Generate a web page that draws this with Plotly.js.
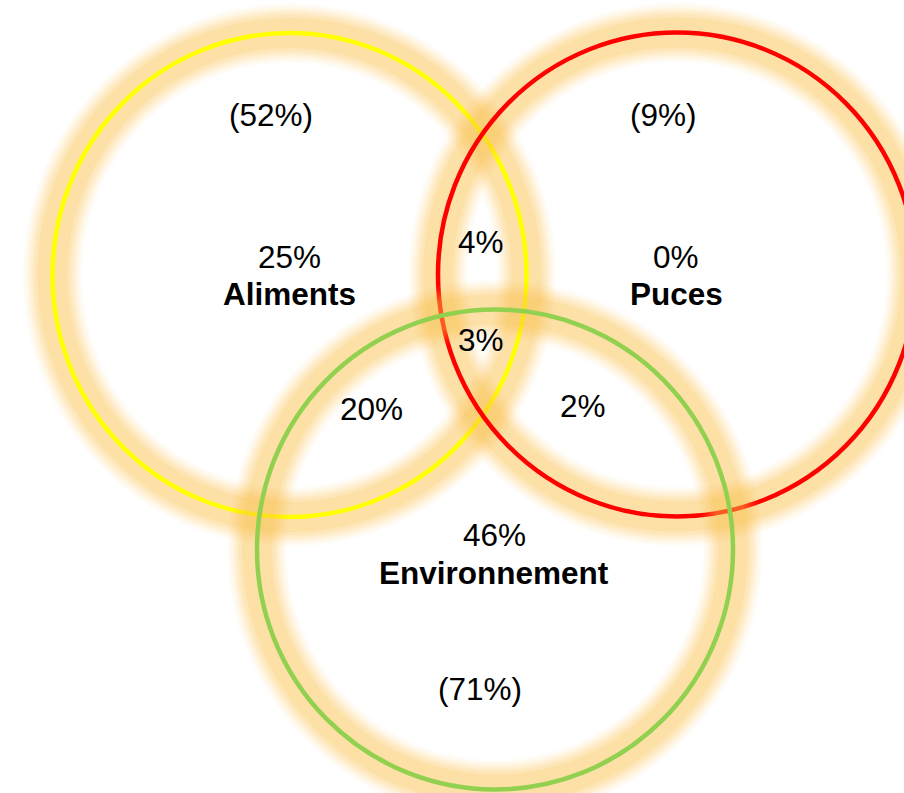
<!DOCTYPE html>
<html>
<head>
<meta charset="utf-8">
<script src="https://cdn.plot.ly/plotly-3.0.1.min.js"></script>
<style>html,body{margin:0;padding:0;background:#fff;}#chart{width:904px;height:793px;}</style>
</head>
<body>
<div id="chart"></div>
<script>
// ---- data ----
var setNames = ['Aliments', 'Puces', 'Environnement'];
var setOnly = ['25%', '0%', '46%'];
var setTotal = ['(52%)', '(9%)', '(71%)'];
var pairNames = ['Aliments ∩ Puces', 'Aliments ∩ Environnement', 'Puces ∩ Environnement'];
var pairValues = ['4%', '20%', '2%'];
var tripleValue = ['3%'];

// ---- styling / geometry (pixel coordinates of the drawing area) ----
var setColors = ['#FFFF00', '#FF0000', '#92D050'];
var circleGeom = [
  {cx: 289.5, cy: 275, rx: 237, ry: 242},
  {cx: 677, cy: 274.5, rx: 239, ry: 242},
  {cx: 495, cy: 549.5, rx: 238, ry: 240}
];
var onlyPos = [[289, 257], [676, 257], [494, 535]];
var namePos = [[289, 294], [676, 294], [494, 573]];
var totalPos = [[271, 115], [663, 115], [480, 689]];
var pairPos = [[481, 242], [371, 409], [583, 406]];
var triplePos = [[481, 340]];

var FONT = 'Liberation Sans, Arial, sans-serif';
var FS = 31.5;

var shapes = [];
var glowLayers = [
  {w: 60, a: 0.035}, {w: 56, a: 0.045}, {w: 52, a: 0.055}, {w: 48, a: 0.065},
  {w: 44, a: 0.075}, {w: 40, a: 0.085}, {w: 36, a: 0.095}, {w: 30, a: 0.16}
];
circleGeom.forEach(function (g, i) {
  glowLayers.forEach(function (L) {
    shapes.push({
      type: 'circle', xref: 'x', yref: 'y', layer: 'above',
      x0: g.cx - g.rx, x1: g.cx + g.rx, y0: g.cy - g.ry, y1: g.cy + g.ry,
      line: {color: 'rgba(249,192,72,' + L.a + ')', width: L.w},
      fillcolor: 'rgba(0,0,0,0)'
    });
  });
  shapes.push({
    type: 'circle', xref: 'x', yref: 'y', layer: 'above',
    x0: g.cx - g.rx, x1: g.cx + g.rx, y0: g.cy - g.ry, y1: g.cy + g.ry,
    line: {color: setColors[i], width: 4.5},
    fillcolor: 'rgba(0,0,0,0)'
  });
});

var annotations = [];
function addText(txt, pos, bold) {
  annotations.push({
    x: pos[0], y: pos[1], xref: 'x', yref: 'y', showarrow: false,
    text: bold ? '<b>' + txt + '</b>' : txt,
    font: {family: FONT, size: FS, color: '#000'},
    xanchor: 'center', yanchor: 'middle'
  });
}
setNames.forEach(function (n, i) {
  addText(setOnly[i], onlyPos[i], false);
  addText(n, namePos[i], true);
  addText(setTotal[i], totalPos[i], false);
});
pairValues.forEach(function (v, i) { addText(v, pairPos[i], false); });
tripleValue.forEach(function (v, i) { addText(v, triplePos[i], false); });

var layout = {
  width: 904, height: 793,
  margin: {l: 0, r: 0, t: 0, b: 0, pad: 0},
  paper_bgcolor: '#fff', plot_bgcolor: '#fff',
  showlegend: false,
  xaxis: {range: [0, 904], visible: false, fixedrange: true},
  yaxis: {range: [793, 0], visible: false, fixedrange: true},
  shapes: shapes,
  annotations: annotations
};

Plotly.newPlot('chart', [{x: [], y: [], type: 'scatter', mode: 'markers', hoverinfo: 'skip'}], layout, {displayModeBar: false, staticPlot: true});
</script>
</body>
</html>
